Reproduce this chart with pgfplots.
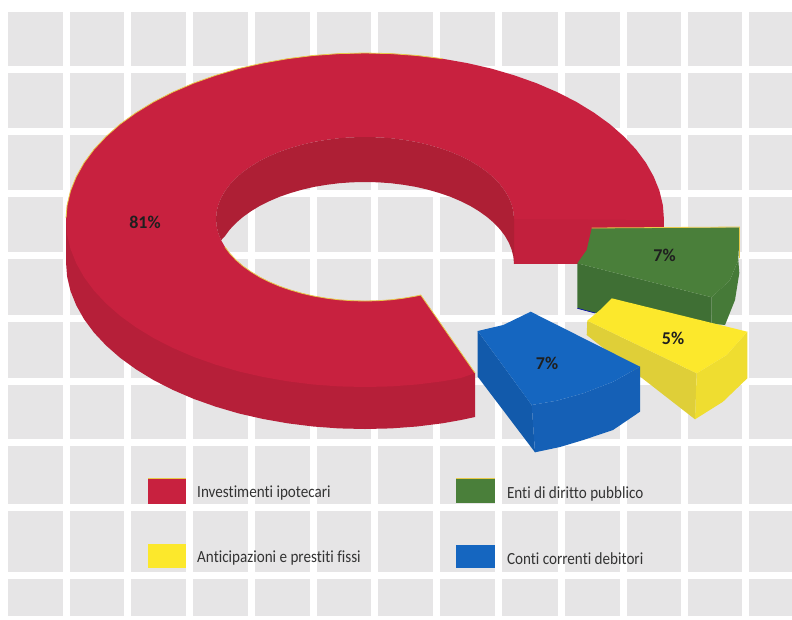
\documentclass[border=0pt]{standalone}
\usepackage{pgfplots}
\pgfplotsset{compat=1.18}
\usepackage{fontspec}
\setmainfont{Carlito}
\newfontfamily\labfont[FakeStretch=0.89,Ligatures=NoCommon]{Carlito}
\definecolor{tile}{HTML}{E6E5E6}
\definecolor{redtop}{HTML}{C8213F}
\definecolor{redside}{HTML}{B61F39}
\definecolor{redwall}{HTML}{AE1F35}
\definecolor{redcut}{HTML}{C2203D}
\definecolor{edge}{HTML}{E8C94A}
\definecolor{greentop}{HTML}{4A7F3A}
\definecolor{greenfront}{HTML}{3F6F34}
\definecolor{greenright}{HTML}{467A38}
\definecolor{yellowtop}{HTML}{FCE82C}
\definecolor{yellowfront}{HTML}{DFCF38}
\definecolor{yellowright}{HTML}{EFDD30}
\definecolor{bluetop}{HTML}{1566C0}
\definecolor{blueleft}{HTML}{125AAB}
\definecolor{bluefront}{HTML}{1560B6}
\begin{document}
\begin{tikzpicture}
\begin{axis}[
  width=792pt,height=619pt,scale only axis,
  xmin=0,xmax=792,ymin=0,ymax=619,y dir=reverse,
  enlargelimits=false,clip=true,
  axis line style={draw=none},tick style={draw=none},
  xticklabels={},yticklabels={},
  axis background/.style={fill=tile},
  xtick={66,127.75,189.5,251.25,313,374.75,436.5,498.25,561,623,684,745.25},
  ytick={69,131,193,255.5,318,381,442,507.5,575},
  grid=major,grid style={white,line width=7pt},
]
% margins of the tile pattern
\addplot[fill=white,draw=none] coordinates {(0,0)(8,0)(8,619)(0,619)} --cycle;
\addplot[fill=white,draw=none] coordinates {(0,0)(792,0)(792,11.5)(0,11.5)} --cycle;
\addplot[fill=white,draw=none] coordinates {(0,616)(792,616)(792,619)(0,619)} --cycle;
% red outer side
\addplot[fill=redside,draw=none] coordinates {
(66,220)(66,262)(67.1,276.6)(70.5,291)(76.2,305.2)(84,319.1)(94,332.6)(106.1,345.5)(120.1,357.8)(136,369.3)(153.6,380.1)(172.8,389.9)(193.5,398.8)(215.5,406.6)(238.6,413.4)(262.7,418.9)(287.6,423.3)(313.1,426.5)(338.9,428.4)(365,429)(391.1,428.4)(416.9,426.5)(442.4,423.3)(461,420)(475,417)(475,373)} --cycle;
% red cut face
\addplot[fill=redcut,draw=none] coordinates {(514,218)(664,218)(664,264)(514,264)} --cycle;
% red top surface
\addplot[fill=redtop,draw=none] coordinates {
(664,220)(662.9,205.4)(659.5,191)(653.8,176.8)(646,162.9)(636,149.4)(623.9,136.5)(609.9,124.2)(594,112.7)(576.4,101.9)(557.2,92.1)(536.5,83.2)(514.5,75.4)(491.4,68.6)(467.3,63.1)(442.4,58.7)(416.9,55.5)(391.1,53.6)(365,53)
(338.9,53.6)(313.1,55.5)(287.6,58.7)(262.7,63.1)(238.6,68.6)(215.5,75.4)(193.5,83.2)(172.8,92.1)(153.6,101.9)(136,112.7)(120.1,124.2)(106.1,136.5)(94,149.4)(84,162.9)(76.2,176.8)(70.5,191)(67.1,205.4)(66,220)
(67.1,234.6)(70.5,249)(76.2,263.2)(84,277.1)(94,290.6)(106.1,303.5)(120.1,315.8)(136,327.3)(153.6,338.1)(172.8,347.9)(193.5,356.8)(215.5,364.6)(238.6,371.4)(262.7,376.9)(287.6,381.3)(313.1,384.5)(338.9,386.4)(365,387)(391.1,386.4)(416.9,384.5)(442.4,381.3)(461,378)(475,373)
(420.7,295)(416,296.1)(403.6,298.2)(390.9,299.8)(378,300.7)(365,301)(352,300.7)(339.1,299.8)(326.4,298.2)(314,296.1)(302,293.3)(290.5,290)(279.5,286.2)(269.2,281.8)(259.6,277)(250.9,271.7)(242.9,266)(236,260)(230,253.7)(225,247)(221.1,240.2)(218.3,233.2)(216.6,226.1)(216,219)
(216.6,211.9)(218.3,204.8)(221.1,197.8)(225,191)(230,184.3)(236,178)(242.9,172)(250.9,166.3)(259.6,161)(269.2,156.2)(279.5,151.8)(290.5,148)(302,144.7)(314,141.9)(326.4,139.8)(339.1,138.2)(352,137.3)(365,137)(378,137.3)(390.9,138.2)(403.6,139.8)(416,141.9)(428,144.7)(439.5,148)(450.5,151.8)(460.8,156.2)(470.4,161)(479.1,166.3)(487.1,172)(494,178)(500,184.3)(505,191)(508.9,197.8)(511.7,204.8)(513.4,211.9)(514,219)} --cycle;
% red inner wall
\addplot[fill=redwall,draw=none] coordinates {
(221.1,240.2)(218.3,233.2)(216.6,226.1)(216,219)(216.6,211.9)(218.3,204.8)(221.1,197.8)(225,191)(230,184.3)(236,178)(242.9,172)(250.9,166.3)(259.6,161)(269.2,156.2)(279.5,151.8)(290.5,148)(302,144.7)(314,141.9)(326.4,139.8)(339.1,138.2)(352,137.3)(365,137)(378,137.3)(390.9,138.2)(403.6,139.8)(416,141.9)(428,144.7)(439.5,148)(450.5,151.8)(460.8,156.2)(470.4,161)(479.1,166.3)(487.1,172)(494,178)(500,184.3)(505,191)(508.9,197.8)(511.7,204.8)(513.4,211.9)(514,219)
(514,264)(513.4,256.9)(511.7,249.8)(508.9,242.8)(505,236)(500,229.3)(494,223)(487.1,217)(479.1,211.3)(470.4,206)(460.8,201.2)(450.5,196.8)(439.5,193)(428,189.7)(416,186.9)(403.6,184.8)(390.9,183.2)(378,182.3)(365,182)(352,182.3)(339.1,183.2)(326.4,184.8)(314,186.9)(302,189.7)(290.5,193)(279.5,196.8)(269.2,201.2)(259.6,206)(250.9,211.3)(242.9,217)(236,223)(230,229.3)(225,236)} --cycle;
% thin edges of the red surface
\addplot[edge,line width=0.8pt] coordinates {(66,218)(67.1,205.4)(70.5,191)(76.2,176.8)(84,162.9)(94,149.4)(106.1,136.5)(120.1,124.2)(136,112.7)(153.6,101.9)(172.8,92.1)(193.5,83.2)(215.5,75.4)(238.6,68.6)(262.7,63.1)(287.6,58.7)(313.1,55.5)(338.9,53.6)(365,53)(391.1,53.6)(416.9,55.5)(442.4,58.7)};
\addplot[edge,line width=0.8pt] coordinates {(225,247)(230,253.7)(236,260)(242.9,266)(250.9,271.7)(259.6,277)(269.2,281.8)(279.5,286.2)(290.5,290)(302,293.3)(314,296.1)(326.4,298.2)(339.1,299.8)(352,300.7)(365,301)(378,300.7)(390.9,299.8)(403.6,298.2)(416,296.1)(420.7,295)(475,373)};
% green slice
\addplot[fill=greenfront,draw=none] coordinates {(577.3,263.3)(711.7,297.3)(711.7,323.3)(725,325)(595,313)(577.3,308.3)} --cycle;
\addplot[fill=greenright,draw=none] coordinates {(711.7,297.3)(730,280)(738.3,260)(739.3,273)(735,300)(725,325)(711.7,323.3)} --cycle;
\addplot[fill=greentop,draw=none] coordinates {(591.7,228.3)(739.3,227.3)(739,245)(738.3,260)(730,280)(711.7,297.3)(577.3,263.3)(586.7,250)} --cycle;
\addplot[edge,line width=0.8pt] coordinates {(591.7,228)(739.5,227)(739.5,258)};
\addplot[color=blue!70!black,line width=0.6pt] coordinates {(577.3,308.3)(595,313)};
% yellow slice
\addplot[fill=yellowfront,draw=none] coordinates {(587.3,320.7)(696.7,373.3)(695,419.3)(586.7,335)} --cycle;
\addplot[fill=yellowright,draw=none] coordinates {(696.7,373.3)(726.7,355)(747.3,331.7)(747.3,378.3)(723,401.7)(695,419.3)} --cycle;
\addplot[fill=yellowtop,draw=none] coordinates {(587.3,320.7)(600,310)(611.7,298.3)(747.3,331.7)(726.7,355)(696.7,373.3)} --cycle;
% blue slice
\addplot[fill=blueleft,draw=none] coordinates {(477.7,331)(531.7,405)(535,452.3)(477.7,376.7)} --cycle;
\addplot[fill=bluefront,draw=none] coordinates {(531.7,405)(556.7,400.7)(583.3,393.3)(613.3,381.7)(640,366.7)(640,411.7)(613,430)(583.3,440)(560,447)(535,452.3)} --cycle;
\addplot[fill=bluetop,draw=none] coordinates {(477.7,331)(503.3,325)(530.7,311.7)(640,366.7)(613.3,381.7)(583.3,393.3)(556.7,400.7)(531.7,405)} --cycle;
% legend keys
\addplot[fill=redtop,draw=none] coordinates {(147.9,478.6)(186,478.6)(186,503.6)(147.9,503.6)} --cycle;
\addplot[edge,line width=0.8pt] coordinates {(147.9,478.6)(186,478.6)};
\addplot[fill=greentop,draw=none] coordinates {(456,478.6)(495,478.6)(495,503.2)(456,503.2)} --cycle;
\addplot[edge,line width=0.8pt] coordinates {(456,478.6)(495,478.6)};
\addplot[fill=yellowtop,draw=none] coordinates {(147.9,544)(186,544)(186,568)(147.9,568)} --cycle;
\addplot[fill=bluetop,draw=none] coordinates {(456,545)(495,545)(495,568)(456,568)} --cycle;
% texts
\tikzset{pct/.style={font=\fontsize{18}{18}\selectfont\bfseries,text=black!88,inner sep=0pt,anchor=center},
 lab/.style={font=\labfont\fontsize{17}{18}\selectfont,text=black!80,inner sep=0pt,anchor=west}}
\node[pct] at (axis cs:145,222) {81\%};
\node[pct] at (axis cs:664.5,255.5) {7\%};
\node[pct] at (axis cs:673,338.5) {5\%};
\node[pct] at (axis cs:547,363) {7\%};
\node[lab] at (axis cs:197,493.5) {Investimenti ipotecari};
\node[lab] at (axis cs:506.8,493.5) {Enti di diritto pubblico};
\node[lab] at (axis cs:197,558.5) {Anticipazioni e prestiti fissi};
\node[lab] at (axis cs:506.8,558.5) {Conti correnti debitori};
\end{axis}
\pgfresetboundingbox
\path (0,0) rectangle (792pt,619pt);
\end{tikzpicture}
\end{document}
